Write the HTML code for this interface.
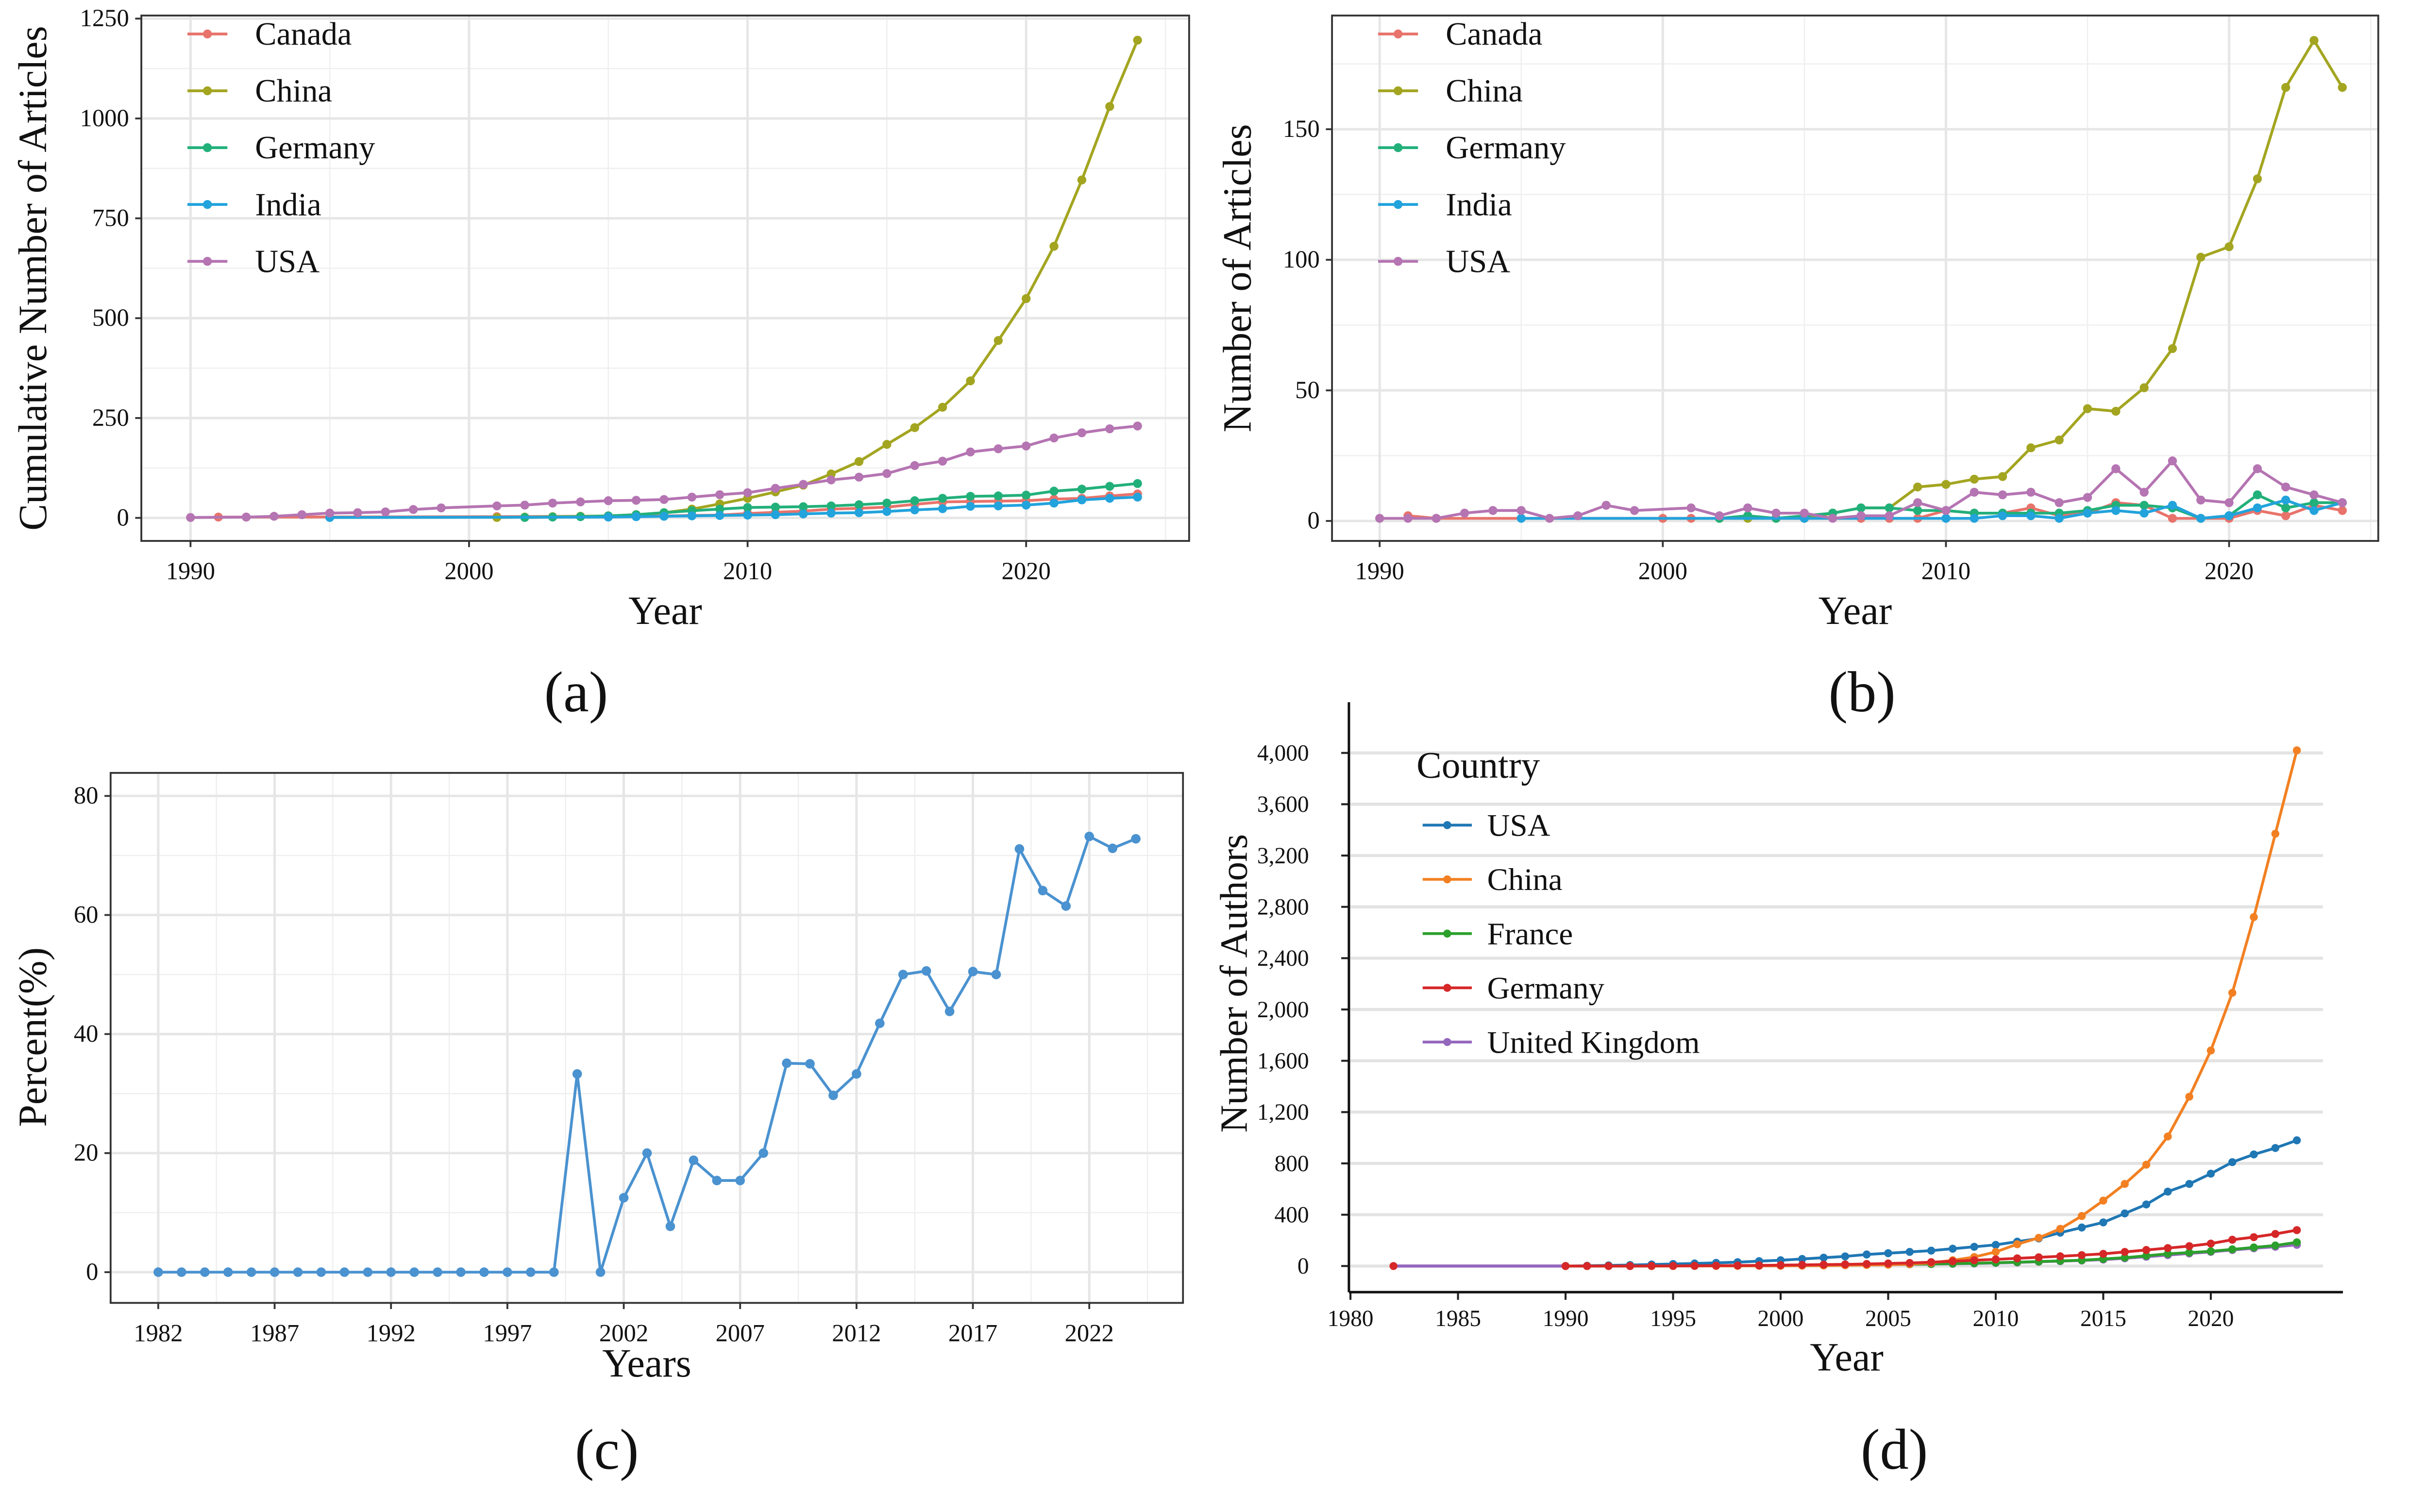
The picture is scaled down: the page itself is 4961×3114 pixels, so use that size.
<!DOCTYPE html>
<html><head><meta charset="utf-8"><style>
html,body{margin:0;padding:0;background:#fff}
svg{display:block}
text{font-family:"Liberation Serif",serif;fill:#111}
</style></head><body>
<svg id="fig" width="4961" height="3114" viewBox="0 0 1568 984" xmlns="http://www.w3.org/2000/svg"></svg>
<script>
// ---------- Panel (a) cumulative ----------
const aYearsCanada=[1991,1992,2001,2004,2007,2008,2009,2010,2011,2012,2013,2014,2015,2016,2017,2018,2019,2020,2021,2022,2023,2024];
const aCanada=[2,2,3,4,5,6,7,11,14,17,22,24,27,34,40,41,42,43,47,49,55,60];
const aYearsChina=[2001,2002,2003,2004,2005,2006,2007,2008,2009,2010,2011,2012,2013,2014,2015,2016,2017,2018,2019,2020,2021,2022,2023,2024];
const aChina=[1,2,3,4,5,8,13,22,35,49,65,82,110,141,184,226,277,343,444,549,680,846,1030,1196];
const aYearsGermany=[2002,2003,2004,2005,2006,2007,2008,2009,2010,2011,2012,2013,2014,2015,2016,2017,2018,2019,2020,2021,2022,2023,2024];
const aGermany=[1,2,3,5,8,13,18,22,26,27,28,30,33,37,43,49,54,55,57,67,72,79,86];
const aYearsIndia=[1995,2005,2006,2007,2008,2009,2010,2011,2012,2013,2014,2015,2016,2017,2018,2019,2020,2021,2022,2023,2024];
const aIndia=[1,2,3,4,5,6,7,8,10,12,13,16,20,23,29,30,32,37,45,49,52];
const aYearsUSA=[1990,1992,1993,1994,1995,1996,1997,1998,1999,2001,2002,2003,2004,2005,2006,2007,2008,2009,2010,2011,2012,2013,2014,2015,2016,2017,2018,2019,2020,2021,2022,2023,2024];
const aUSA=[1,2,4,8,12,13,15,21,25,30,32,37,40,43,44,46,52,58,63,74,84,95,102,111,131,142,165,173,180,200,213,223,230];
const aYTicks=[0,250,500,750,1000,1250];
const aXTicks=[1990,2000,2010,2020];
// ---------- Panel (b) annual ----------
const bYearsCanada=[1991,1992,2000,2001,2004,2007,2008,2009,2010,2011,2012,2013,2014,2015,2016,2017,2018,2019,2020,2021,2022,2023,2024];
const bCanada=[2,1,1,1,1,1,1,1,4,3,3,5,2,3,7,6,1,1,1,4,2,6,4];
const bYearsChina=[2002,2003,2004,2005,2006,2007,2008,2009,2010,2011,2012,2013,2014,2015,2016,2017,2018,2019,2020,2021,2022,2023,2024];
const bChina=[1,1,1,1,3,5,5,13,14,16,17,28,31,43,42,51,66,101,105,131,166,184,166];
const bYearsGermany=[2002,2003,2004,2005,2006,2007,2008,2009,2010,2011,2012,2013,2014,2015,2016,2017,2018,2019,2020,2021,2022,2023,2024];
const bGermany=[1,2,1,2,3,5,5,4,4,3,3,3,3,4,6,6,5,1,2,10,5,7,7];
const bYearsIndia=[1995,2005,2010,2011,2012,2013,2014,2015,2016,2017,2018,2019,2020,2021,2022,2023,2024];
const bIndia=[1,1,1,1,2,2,1,3,4,3,6,1,2,5,8,4,7];
const bYearsUSA=[1990,1991,1992,1993,1994,1995,1996,1997,1998,1999,2001,2002,2003,2004,2005,2006,2007,2008,2009,2010,2011,2012,2013,2014,2015,2016,2017,2018,2019,2020,2021,2022,2023,2024];
const bUSA=[1,1,1,3,4,4,1,2,6,4,5,2,5,3,3,1,2,2,7,4,11,10,11,7,9,20,11,23,8,7,20,13,10,7];
const bYTicks=[0,50,100,150];
// ---------- Panel (c) percent ----------
const cYears=[1982,1983,1984,1985,1986,1987,1988,1989,1990,1991,1992,1993,1994,1995,1996,1997,1998,1999,2000,2001,2002,2003,2004,2005,2006,2007,2008,2009,2010,2011,2012,2013,2014,2015,2016,2017,2018,2019,2020,2021,2022,2023,2024];
const cPercent=[0,0,0,0,0,0,0,0,0,0,0,0,0,0,0,0,0,0,33.3,0,12.5,20,7.7,18.8,15.4,15.4,20,35.1,35,29.7,33.3,41.8,50,50.6,43.8,50.5,50,71.1,64.1,61.5,73.2,71.2,72.8];
const cXTicks=[1982,1987,1992,1997,2002,2007,2012,2017,2022];
const cYTicks=[0,20,40,60,80];
// ---------- Panel (d) authors ----------
const dYears=[1990,1991,1992,1993,1994,1995,1996,1997,1998,1999,2000,2001,2002,2003,2004,2005,2006,2007,2008,2009,2010,2011,2012,2013,2014,2015,2016,2017,2018,2019,2020,2021,2022,2023,2024];
const dUSA=[0,2,5,8,12,16,20,25,30,38,45,55,65,75,90,100,110,120,135,150,165,190,215,260,300,340,410,480,580,640,720,810,870,920,980];
const dChina=[0,0,0,0,0,0,1,1,1,2,2,3,4,6,8,10,15,25,45,70,110,170,220,290,390,510,640,790,1010,1320,1680,2130,2720,3370,4020];
const dFrance=[0,0,0,0,0,1,1,2,2,3,4,5,6,8,10,12,14,16,19,22,26,30,35,40,45,55,65,80,95,105,115,130,145,160,185];
const dGermany=[0,0,0,0,1,1,2,3,4,5,7,9,11,13,16,20,24,30,37,45,52,60,68,76,85,95,110,125,140,155,175,205,225,250,280];
const dUK=[0,0,0,0,0,1,1,1,2,2,3,4,5,7,9,11,13,15,17,20,24,28,33,38,43,50,60,72,85,98,110,125,138,150,165];
const dYTicks=[0,400,800,1200,1600,2000,2400,2800,3200,3600,4000];
const dXTicks=[1980,1985,1990,1995,2000,2005,2010,2015,2020];

const NS="http://www.w3.org/2000/svg";
const svg=document.getElementById('fig');
function el(tag,attrs,parent,txt){const e=document.createElementNS(NS,tag);for(const k in attrs)e.setAttribute(k,attrs[k]);if(txt!==undefined)e.textContent=txt;(parent||svg).appendChild(e);return e;}
function grp(name){const g=el('g',{});return g;}

function series(g,name,xs,ys,sx,sy,color,lw,r){
  const s=el('g',{},g);
  
  
  const pts=xs.map((x,i)=>sx(x).toFixed(2)+','+sy(ys[i]).toFixed(2)).join(' ');
  el('polyline',{points:pts,fill:'none',stroke:color,'stroke-width':lw,'stroke-linejoin':'round'},s);
  xs.forEach((x,i)=>{const c=el('circle',{cx:sx(x),cy:sy(ys[i]),r:r,fill:color},s);
    
    });
}

const cols={Canada:'#E8736B',China:'#A3A520',Germany:'#22B07A',India:'#22A3DC',USA:'#B574B2'};

function ggPanel(name,L,R,T,B,sx,sy,yTicks,xTicks,yLab,legendX,ser,plx){
  const g=grp(name);
  el('rect',{x:L,y:T,width:R-L,height:B-T,fill:'#fff'},g);
  for(let i=0;i<yTicks.length;i++){const v=i<yTicks.length-1?(yTicks[i]+yTicks[i+1])/2:yTicks[i]+(yTicks[1]-yTicks[0])/2;const y=sy(v);if(y>T&&y<B)el('line',{x1:L,x2:R,y1:y,y2:y,stroke:'#efefef','stroke-width':0.8},g);}
  const xs=xTicks.concat([xTicks[xTicks.length-1]+10]);
  for(let i=-1;i<xs.length;i++){const v=(i<0?xs[0]-5:xs[i]+5);const x=sx(v);if(x>L&&x<R)el('line',{x1:x,x2:x,y1:T,y2:B,stroke:'#efefef','stroke-width':0.8},g);}
  yTicks.forEach(v=>{const y=sy(v);el('line',{x1:L,x2:R,y1:y,y2:y,stroke:'#e6e6e6','stroke-width':1.6},g);
    el('line',{x1:L-4,x2:L,y1:y,y2:y,stroke:'#333','stroke-width':1.2},g);
    el('text',{x:L-8,y:y+5,'text-anchor':'end','font-size':16,fill:'#444'},g,String(v));});
  xTicks.forEach(v=>{const x=sx(v);el('line',{x1:x,x2:x,y1:T,y2:B,stroke:'#e6e6e6','stroke-width':1.6},g);
    el('line',{x1:x,x2:x,y1:B,y2:B+4,stroke:'#333','stroke-width':1.2},g);
    el('text',{x:x,y:B+25,'text-anchor':'middle','font-size':16,fill:'#444'},g,String(v));});
  ser.forEach(s=>series(g,name+'-'+s[0].toLowerCase(),s[1],s[2],sx,sy,cols[s[0]],1.8,2.9));
  const lg=el('g',{},g);
  
  
  ser.forEach((s,i)=>{const y=T+12+i*37;
    const e=el('g',{},lg);
    
    
    el('line',{x1:legendX,x2:legendX+26,y1:y,y2:y,stroke:cols[s[0]],'stroke-width':1.8},e);
    el('circle',{cx:legendX+13,cy:y,r:2.9,fill:cols[s[0]]},e);
    el('text',{x:legendX+44,y:y+7,'font-size':21},e,s[0]);});
  el('rect',{x:L,y:T,width:R-L,height:B-T,fill:'none',stroke:'#333','stroke-width':1.2},g);
  const xt=el('text',{x:(L+R)/2,y:B+54,'text-anchor':'middle','font-size':26},g,'Year');
  
  const yt=el('text',{x:0,y:0,transform:`translate(${plx},${(T+B)/2}) rotate(-90)`,'text-anchor':'middle','font-size':26},g,yLab);
  
}

(function(){
  const L=92,R=774,T=10,B=352;
  const sx=y=>124+(y-1990)*18.13, sy=v=>337-v*0.26;
  ggPanel('panel-a',L,R,T,B,sx,sy,aYTicks,aXTicks,'Cumulative Number of Articles',122,
    [['Canada',aYearsCanada,aCanada],['China',aYearsChina,aChina],['Germany',aYearsGermany,aGermany],['India',aYearsIndia,aIndia],['USA',aYearsUSA,aUSA]],30);
  const t=el('text',{x:375,y:463,'text-anchor':'middle','font-size':37.5},svg,'(a)');
  
  
})();
(function(){
  const L=867,R=1548,T=10,B=352;
  const sx=y=>898+(y-1990)*18.43, sy=v=>339-v*1.7;
  ggPanel('panel-b',L,R,T,B,sx,sy,bYTicks,aXTicks,'Number of Articles',897,
    [['Canada',bYearsCanada,bCanada],['China',bYearsChina,bChina],['Germany',bYearsGermany,bGermany],['India',bYearsIndia,bIndia],['USA',bYearsUSA,bUSA]],814);
  const t=el('text',{x:1212,y:463,'text-anchor':'middle','font-size':37.5},svg,'(b)');
  
  
})();
(function(){
  const g=grp('panel-c');
  const L=72,R=770,T=503,B=848;
  const sx=y=>103+(y-1982)*15.15, sy=v=>828-v*3.875;
  el('rect',{x:L,y:T,width:R-L,height:B-T,fill:'#fff'},g);
  [10,30,50,70].forEach(v=>{const y=sy(v);el('line',{x1:L,x2:R,y1:y,y2:y,stroke:'#efefef','stroke-width':0.8},g);});
  cXTicks.forEach(v=>{const x=sx(v+2.5);if(x<R)el('line',{x1:x,x2:x,y1:T,y2:B,stroke:'#efefef','stroke-width':0.8},g);});
  cYTicks.forEach(v=>{const y=sy(v);el('line',{x1:L,x2:R,y1:y,y2:y,stroke:'#e6e6e6','stroke-width':1.6},g);
    el('line',{x1:L-4,x2:L,y1:y,y2:y,stroke:'#333','stroke-width':1.2},g);
    el('text',{x:L-8,y:y+5,'text-anchor':'end','font-size':16,fill:'#444'},g,String(v));});
  cXTicks.forEach(v=>{const x=sx(v);el('line',{x1:x,x2:x,y1:T,y2:B,stroke:'#e6e6e6','stroke-width':1.6},g);
    el('line',{x1:x,x2:x,y1:B,y2:B+4,stroke:'#333','stroke-width':1.2},g);
    el('text',{x:x,y:B+25,'text-anchor':'middle','font-size':16,fill:'#444'},g,String(v));});
  series(g,'percent-line',cYears,cPercent,sx,sy,'#4A92D0',1.8,3.1);
  el('rect',{x:L,y:T,width:R-L,height:B-T,fill:'none',stroke:'#333','stroke-width':1.2},g);
  const xt=el('text',{x:421,y:896,'text-anchor':'middle','font-size':26},g,'Years');
  
  const yt=el('text',{x:0,y:0,transform:'translate(30,675) rotate(-90)','text-anchor':'middle','font-size':26},g,'Percent(%)');
  
  const t=el('text',{x:395,y:956,'text-anchor':'middle','font-size':37.5},svg,'(c)');
  
  
})();
(function(){
  const g=grp('panel-d');
  const sx=y=>879+(y-1980)*14.0, sy=v=>824-v*0.0835;
  dYTicks.forEach(v=>{const y=sy(v);el('line',{x1:879,x2:1512,y1:y,y2:y,stroke:'#e3e3e3','stroke-width':2},g);
    el('line',{x1:873,x2:878,y1:y,y2:y,stroke:'#222','stroke-width':1.3},g);
    el('text',{x:852,y:y+5,'text-anchor':'end','font-size':15,fill:'#333'},g,v.toLocaleString('en-US'));});
  dXTicks.forEach(v=>{const x=sx(v);el('line',{x1:x,x2:x,y1:841,y2:846,stroke:'#222','stroke-width':1.3},g);
    el('text',{x:x,y:863,'text-anchor':'middle','font-size':15,fill:'#333'},g,String(v));});
  const defs=[['united-kingdom',dUK,'#9467BD'],['france',dFrance,'#2CA02C'],['usa',dUSA,'#1F77B4'],['china',dChina,'#F28022'],['germany',dGermany,'#D62728']];
  const pre=el('g',{},g);
  
  
  el('line',{x1:sx(1982),x2:sx(1990),y1:sy(0),y2:sy(0),stroke:'#9467BD','stroke-width':2},pre);
  el('circle',{cx:sx(1982),cy:sy(0),r:2.6,fill:'#D62728'},pre);
  defs.forEach(d=>series(g,'authors-'+d[0],dYears,d[1],sx,sy,d[2],1.8,2.6));
  el('line',{x1:878,x2:878,y1:457,y2:841,stroke:'#111','stroke-width':1.6},g);
  el('line',{x1:878,x2:1525,y1:841,y2:841,stroke:'#111','stroke-width':1.6},g);
  const xt=el('text',{x:1202,y:892,'text-anchor':'middle','font-size':26},g,'Year');
  
  const yt=el('text',{x:0,y:0,transform:'translate(811.5,640) rotate(-90)','text-anchor':'middle','font-size':25},g,'Number of Authors');
  
  const lg=el('g',{},g);
  
  
  el('text',{x:922,y:506,'font-size':24.5},lg,'Country');
  [['USA','#1F77B4'],['China','#F28022'],['France','#2CA02C'],['Germany','#D62728'],['United Kingdom','#9467BD']].forEach((e,i)=>{
    const y=537+i*35.3;
    const it=el('g',{},lg);
    
    
    el('line',{x1:926,x2:958,y1:y,y2:y,stroke:e[1],'stroke-width':1.8},it);
    el('circle',{cx:942,cy:y,r:2.6,fill:e[1]},it);
    el('text',{x:968,y:y+7,'font-size':20.5},it,e[0]);});
  const t=el('text',{x:1233,y:956,'text-anchor':'middle','font-size':37.5},svg,'(d)');
  
  
})();
</script>
</body></html>
